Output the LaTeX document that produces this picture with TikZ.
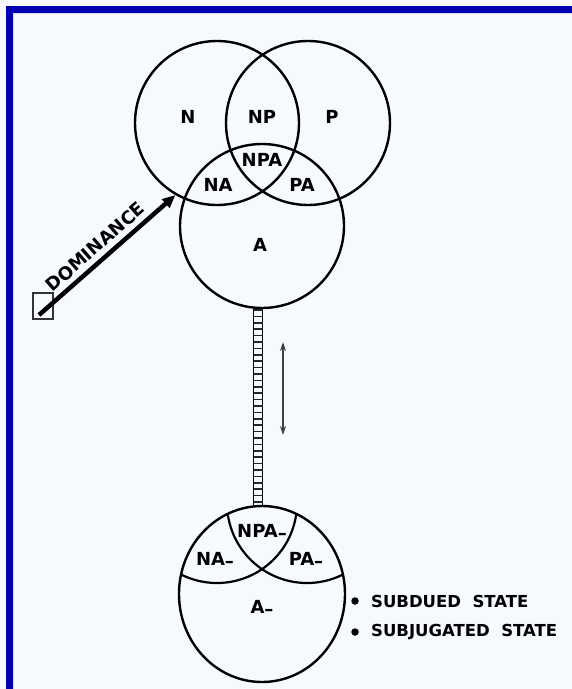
\documentclass[tikz,border=0pt]{standalone}
\usepackage{fontspec}
\setmainfont{DejaVu Sans}
\usetikzlibrary{arrows.meta, positioning, shapes.geometric}

\definecolor{framebl}{HTML}{0000B0}
\definecolor{paper}{HTML}{F6FAFF}
\definecolor{edgelav}{HTML}{D8D8F6}

\begin{document}
\begin{tikzpicture}[
    x=1pt, y=-1pt,
    ring/.style={
        circle,
        draw,
        line width=2.4pt,
        minimum size=164pt,
        inner sep=0pt
    },
    lbl/.style={font=\fontsize{18}{20}\selectfont\bfseries, inner sep=0pt},
    note/.style={font=\fontsize{16.5}{18}\selectfont\bfseries, inner sep=0pt, anchor=west},
    dot/.style={circle, fill, inner sep=0pt, minimum size=7.5pt},
    dom/.style={line width=4.5pt, -{Triangle[length=13pt,width=11pt]}},
    updown/.style={line width=1.3pt, black!75, {Stealth[length=9pt,width=6pt]}-{Stealth[length=9pt,width=6pt]}}
]

% page and frame
\fill[paper] (0,0) rectangle (572,689);
\useasboundingbox (0,0) rectangle (572,689);
\draw[edgelav, line width=1.5pt] (13.5,689) -- (13.5,13.5) -- (572,13.5);
\draw[framebl, line width=6.5pt] (9.4,689) -- (9.4,9.7) -- (572,9.7);

% upper state
\node[ring] (N) at (217,123) {};
\node[ring] (P) at (308,123) {};
\node[ring] (A) at (262,226) {};

\node[lbl] (lN) at (188,117) {N};
\node[lbl] (lNP) at (262,117) {NP};
\node[lbl] (lP) at (332,117) {P};
\node[lbl] (lNPA) at (262,160) {NPA};
\node[lbl] (lNA) at (218,185) {NA};
\node[lbl] (lPA) at (302,185) {PA};
\node[lbl] (lA) at (260,245) {A};

% dominance
\node[draw, black!80, line width=1.6pt, minimum width=20pt, minimum height=26pt, inner sep=0pt] (box) at (43,306) {};
\coordinate (tail) at (39,315);
\draw[dom] (tail) -- node[lbl, sloped, above=5pt, pos=0.48] {DOMINANCE} (N.240);

% lower state
\node[ellipse, draw, line width=2.4pt, minimum width=166pt, minimum height=176pt, inner sep=0pt] (Am) at (262,594) {};
\begin{scope}
    \clip (262,594) ellipse [x radius=83, y radius=88];
    \draw[line width=2.2pt] (217,503) circle [radius=80];
    \draw[line width=2.2pt] (307,503) circle [radius=80];
\end{scope}

\node[lbl] (lNPAm) at (262,532) {NPA\lower2pt\hbox{–}};
\node[lbl] (lNAm) at (215,560) {NA\lower2pt\hbox{–}};
\node[lbl] (lPAm) at (306,560) {PA\lower2pt\hbox{–}};
\node[lbl] (lAm) at (262,608) {A\lower2pt\hbox{–}};

% chain between the states
\draw[line width=1.2pt] ([xshift=-8.5pt]A.south) -- ([xshift=-8.5pt]Am.north);
\draw[line width=1.2pt] ([xshift=0.5pt]A.south) -- ([xshift=0.5pt]Am.north);
\draw[line width=9pt, black!85, dash pattern=on 1.6pt off 4.8pt] ([xshift=-4pt]A.south) -- ([xshift=-4pt]Am.north);

\coordinate (up) at (283,342);
\coordinate (dn) at (283,435);
\draw[updown] (up) -- (dn);

% states
\node[dot] (b1) at (355,601) {};
\node[dot] (b2) at (355,632) {};
\node[note, right=12pt of b1] (subdued) {SUBDUED\ \ STATE};
\node[note, right=12pt of b2] (subjug) {SUBJUGATED\ \ STATE};

\end{tikzpicture}
\end{document}
